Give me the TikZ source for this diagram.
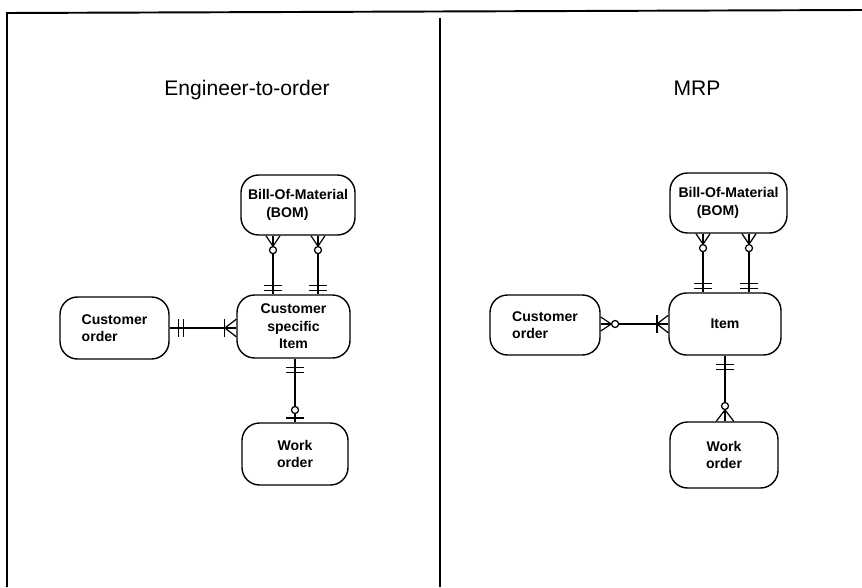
\documentclass[tikz,border=0pt]{standalone}
\usepackage{fontspec}
\setmainfont{Liberation Sans}
\usetikzlibrary{decorations.markings}

\tikzset{
    entity/.style={draw, line width=0.8pt, rounded corners=10pt, align=left,
        font=\fontsize{8}{10}\selectfont\bfseries},
    heading/.style={font=\fontsize{12}{14}\selectfont},
    % --- line ends (crow's foot notation) ---
    % zero or many, at the start of a line
    zero many start/.style={postaction={decorate, decoration={markings,
        mark=at position 6pt with {
            \draw (0,0) -- (-6pt,4pt) (0,0) -- (-6pt,-4pt);
            \draw[fill=white] (2.2pt,0) circle (2pt);}}}},
    % one and only one, at the start of a line
    one one start/.style={postaction={decorate, decoration={markings,
        mark=at position 5pt with {\draw (0,-5pt) -- (0,5pt);},
        mark=at position 8pt with {\draw (0,-5pt) -- (0,5pt);}}}},
    % one and only one, at the end of a line
    one one end/.style={postaction={decorate, decoration={markings,
        mark=at position -5pt with {\draw (0,-5pt) -- (0,5pt);},
        mark=at position -2pt with {\draw (0,-5pt) -- (0,5pt);}}}},
    % one or many, at the end of a line
    one many end/.style={postaction={decorate, decoration={markings,
        mark=at position -6.5pt with {
            \draw (0,-5pt) -- (0,5pt);
            \draw (0,0) -- (6.5pt,5pt) (0,0) -- (6.5pt,-5pt);}}}},
    % zero or one, at the end of a line
    zero one end/.style={postaction={decorate, decoration={markings,
        mark=at position -2.5pt with {
            \draw (0,-5pt) -- (0,5pt);
            \draw[fill=white] (-4.5pt,0) circle (2pt);}}}},
    % zero or many, at the end of a line
    zero many end/.style={postaction={decorate, decoration={markings,
        mark=at position -6.5pt with {
            \draw (0,0) -- (6.5pt,5pt) (0,0) -- (6.5pt,-5pt);
            \draw[fill=white] (-2.2pt,0) circle (2pt);}}}},
}

\begin{document}
\begin{tikzpicture}[line width=0.7pt]
    % --- Page and frame ---
    \useasboundingbox (0,0) rectangle (17.24,11.74);
    \draw[line width=1.1pt] (17.24,11.54) -- (0.14,11.48) -- (0.14,0);
    \draw[line width=1.1pt] (8.80,11.38) -- (8.80,0);

    % --- Engineer-to-order ---
    \node[heading] (etoTitle) at (4.94,9.94) {Engineer-to-order};

    \node[entity, minimum width=2.28cm, minimum height=1.2cm] (bomL) at (5.96,7.64)
        {Bill-Of-Material\\\hspace*{1.3em}(BOM)};
    \node[entity, minimum width=2.26cm, minimum height=1.26cm, align=center] (itemL) at (5.87,5.21)
        {Customer\\specific\\Item};
    \node[entity, minimum width=2.18cm, minimum height=1.24cm] (orderL) at (2.29,5.18)
        {Customer\\order};
    \node[entity, minimum width=2.12cm, minimum height=1.24cm, align=center] (workL) at (5.90,2.66)
        {Work\\order};

    \draw[zero many start, one one end] ([xshift=-0.5cm]bomL.south) -- ([xshift=-0.5cm]bomL.south |- itemL.north);
    \draw[zero many start, one one end] ([xshift=0.4cm]bomL.south) -- ([xshift=0.4cm]bomL.south |- itemL.north);
    \draw[one one start, one many end] (orderL.east) -- (orderL.east -| itemL.west);
    \draw[one one start, zero one end] (workL.north |- itemL.south) -- (workL.north);

    % --- MRP ---
    \node[heading] (mrpTitle) at (13.94,9.98) {MRP};

    \node[entity, minimum width=2.34cm, minimum height=1.2cm] (bomR) at (14.57,7.68)
        {Bill-Of-Material\\\hspace*{1.3em}(BOM)};
    \node[entity, minimum width=2.24cm, minimum height=1.24cm, align=center] (itemR) at (14.50,5.26)
        {Item};
    \node[entity, minimum width=2.2cm, minimum height=1.2cm] (orderR) at (10.90,5.24)
        {Customer\\order};
    \node[entity, minimum width=2.16cm, minimum height=1.32cm, align=center] (workR) at (14.48,2.64)
        {Work\\order};

    \draw[zero many start, one one end] ([xshift=-0.51cm]bomR.south) -- ([xshift=-0.51cm]bomR.south |- itemR.north);
    \draw[zero many start, one one end] ([xshift=0.41cm]bomR.south) -- ([xshift=0.41cm]bomR.south |- itemR.north);
    \draw[zero many start, one many end] (orderR.east |- itemR.west) -- (itemR.west);
    \draw[one one start, zero many end] (itemR.south) -- (itemR.south |- workR.north);
\end{tikzpicture}
\end{document}
